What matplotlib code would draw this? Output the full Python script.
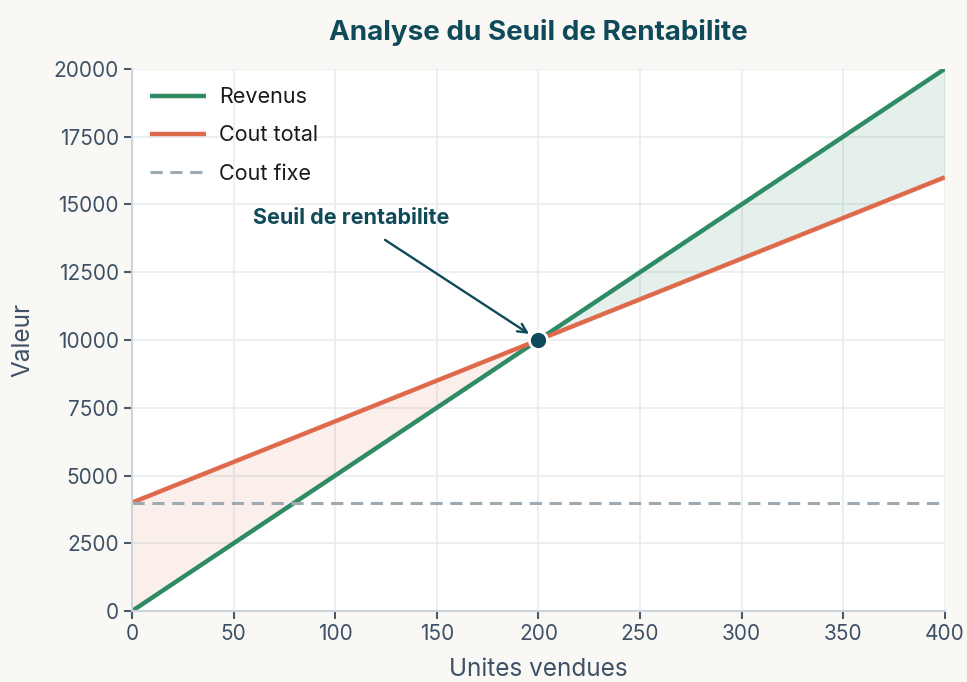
import numpy as np
import matplotlib; matplotlib.use('Agg')
import matplotlib.pyplot as plt

# data
units = [0, 50, 100, 150, 200, 250, 300, 350, 400]
revenus = [0, 2500, 5000, 7500, 10000, 12500, 15000, 17500, 20000]
cout_total = [4000, 5500, 7000, 8500, 10000, 11500, 13000, 14500, 16000]
cout_fixe = [4000] * len(units)
seuil_x, seuil_y = 200, 10000

plt.rcParams['font.family'] = ['Inter', 'DejaVu Sans']

green, orange, grey, teal = '#2e8b64', '#df6a4b', '#9daab1', '#0f4a5a'
txt = '#3e5166'

x = np.array(units); r = np.array(revenus); c = np.array(cout_total)

fig = plt.figure(figsize=(9.67, 6.82), dpi=100, facecolor='#f9f8f4')
ax = fig.add_axes([0.1365, 0.104, 0.8405, 0.795])
ax.set_facecolor('white')

ax.fill_between(x, r, c, where=r >= c, color=green, alpha=0.12, lw=0, interpolate=True)
ax.fill_between(x, r, c, where=r <= c, color=orange, alpha=0.1, lw=0, interpolate=True)
ax.plot(x, r, color=green, lw=3.2, label='Revenus', solid_capstyle='butt')
ax.plot(x, c, color=orange, lw=3.2, label='Cout total', solid_capstyle='butt')
ax.plot(x, cout_fixe, color=grey, lw=2.2, ls=(0, (4, 2.5)), label='Cout fixe')
ax.plot([seuil_x], [seuil_y], 'o', ms=13, color=teal, mec='white', mew=2, zorder=5)

ax.annotate('Seuil de rentabilite', xy=(seuil_x, seuil_y), xytext=(108, 14500),
            ha='center', va='center', fontsize=15.5, fontweight='bold', color=teal,
            arrowprops=dict(arrowstyle='->', color=teal, lw=1.7, shrinkA=12, shrinkB=8,
                            mutation_scale=16))

ax.set_xlim(0, 400); ax.set_ylim(0, 20000)
ax.set_xticks(range(0, 401, 50)); ax.set_yticks(range(0, 20001, 2500))
ax.grid(True, color='#e8eced', lw=1.2)
ax.set_axisbelow(True)
for s in ['top', 'right']:
    ax.spines[s].set_visible(False)
for s in ['left', 'bottom']:
    ax.spines[s].set_color('#ccd5dc'); ax.spines[s].set_linewidth(1.5)
ax.tick_params(colors=txt, labelsize=15, length=6, width=1.5, color='#4a5a6e')
ax.set_xlabel('Unites vendues', fontsize=17.5, color=txt, labelpad=10)
ax.set_ylabel('Valeur', fontsize=17.5, color=txt, labelpad=14)
ax.set_title('Analyse du Seuil de Rentabilite', fontsize=20, fontweight='bold', color=teal, pad=21)

leg = ax.legend(loc='upper left', frameon=False, fontsize=15.5, handlelength=2.6,
                handletextpad=0.6, labelspacing=0.85, borderaxespad=0.45)
for t in leg.get_texts():
    t.set_color('#1a1a1a')

fig.savefig('out.png', dpi=100, facecolor=fig.get_facecolor())
